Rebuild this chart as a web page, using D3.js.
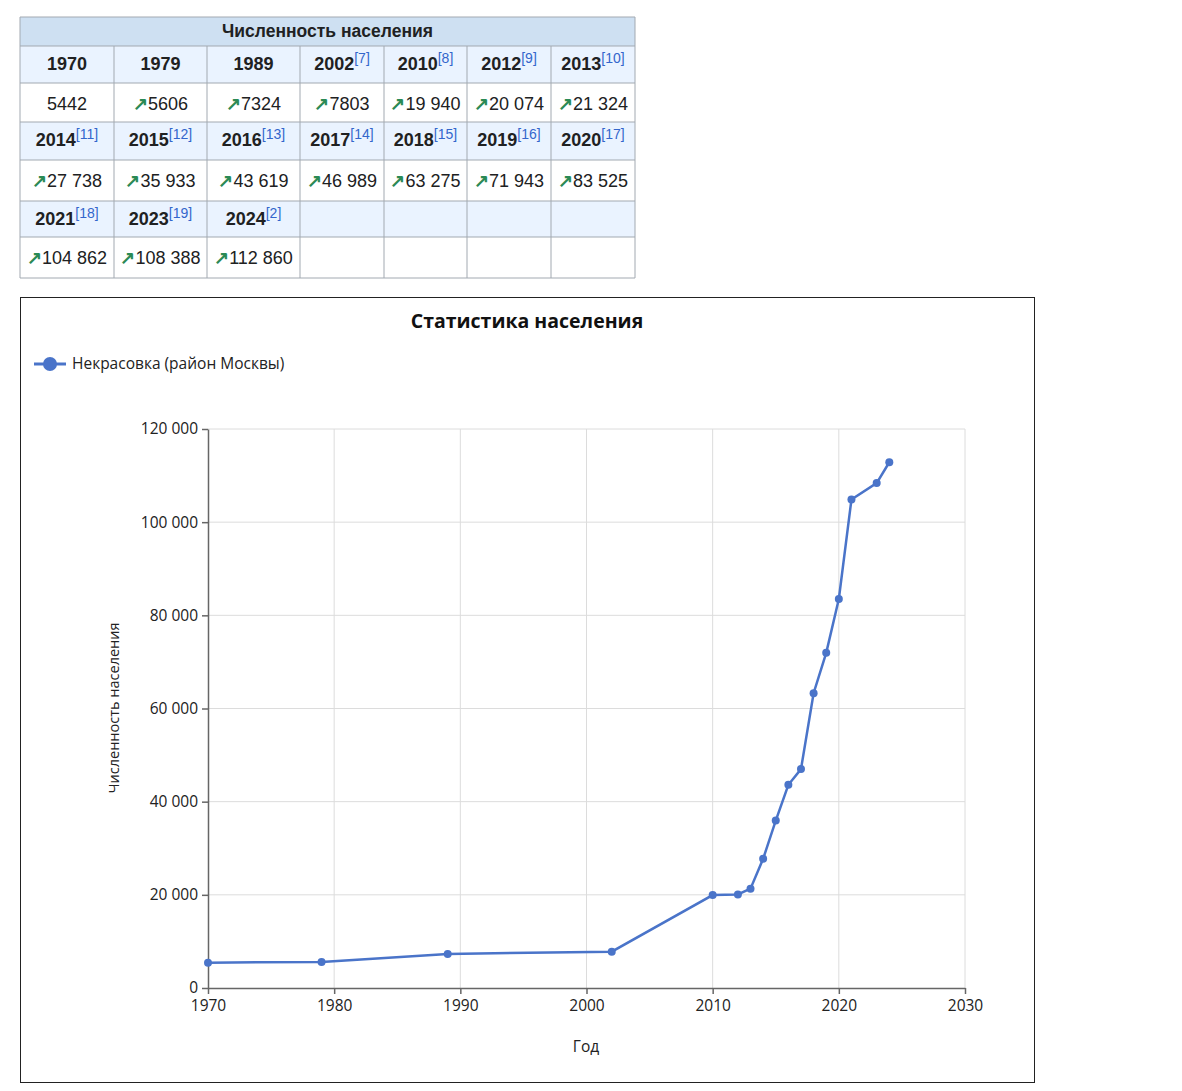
<!DOCTYPE html>
<html>
<head>
<meta charset="utf-8">
<script src="https://cdn.jsdelivr.net/npm/d3@7"></script>
<style>
  body { margin: 0; background: #fff; }
  svg text { font-family: "Liberation Sans", Arial, sans-serif; }
  .chart text { font-family: "Open Sans", "Noto Sans", sans-serif; }
</style>
</head>
<body>
<div id="vis"></div>
<script>
// Data
const years = [1970, 1979, 1989, 2002, 2010, 2012, 2013, 2014, 2015, 2016, 2017, 2018, 2019, 2020, 2021, 2023, 2024];
const population = [5442, 5606, 7324, 7803, 19940, 20074, 21324, 27738, 35933, 43619, 46989, 63275, 71943, 83525, 104862, 108388, 112860];
const refs = ['', '', '', '7', '8', '9', '10', '11', '12', '13', '14', '15', '16', '17', '18', '19', '2'];
const xTicks = [1970, 1980, 1990, 2000, 2010, 2020, 2030];
const yTicks = [0, 20000, 40000, 60000, 80000, 100000, 120000];

const tableTitle = 'Численность населения';
const chartTitle = 'Статистика населения';
const seriesName = 'Некрасовка (район Москвы)';
const xLabel = 'Год';
const yLabel = 'Численность населения';

const ru = d3.formatLocale({ decimal: ',', thousands: '\u00a0', grouping: [3], currency: ['', ''] });
const fmtSpace = ru.format(',');
const fmtCell = v => v < 10000 ? String(v) : fmtSpace(v);

const svg = d3.select('#vis').append('svg')
    .attr('width', 1182)
    .attr('height', 1091);

// ---------- Table ----------
const colX = [20, 114, 207, 300, 384, 467, 551, 635];
const rowY = [17, 46, 83, 122, 160, 201, 237, 278];
const nCols = 7;
const tbl = svg.append('g').attr('class', 'table');

// title row
tbl.append('rect')
    .attr('x', colX[0]).attr('y', rowY[0])
    .attr('width', colX[7] - colX[0]).attr('height', rowY[1] - rowY[0])
    .attr('fill', '#cee0f2');
tbl.append('text')
    .attr('x', (colX[0] + colX[7]) / 2).attr('y', rowY[0] + 20)
    .attr('text-anchor', 'middle')
    .attr('font-size', 17.5).attr('font-weight', 'bold')
    .attr('fill', '#202122')
    .text(tableTitle);

for (let block = 0; block < 3; block++) {
    const hTop = rowY[1 + block * 2], hBot = rowY[2 + block * 2], vBot = rowY[3 + block * 2];
    for (let c = 0; c < nCols; c++) {
        const i = block * nCols + c;
        const x0 = colX[c], x1 = colX[c + 1];
        tbl.append('rect')
            .attr('x', x0).attr('y', hTop)
            .attr('width', x1 - x0).attr('height', hBot - hTop)
            .attr('fill', '#eaf3ff');
        tbl.append('rect')
            .attr('x', x0).attr('y', hBot)
            .attr('width', x1 - x0).attr('height', vBot - hBot)
            .attr('fill', '#fff');
        if (i >= years.length) continue;
        const cx = (x0 + x1) / 2;
        const ht = tbl.append('text')
            .attr('x', cx).attr('y', hTop + 24)
            .attr('text-anchor', 'middle')
            .attr('font-size', 18).attr('font-weight', 'bold')
            .attr('fill', '#202122');
        ht.append('tspan').text(years[i]);
        if (refs[i]) {
            ht.append('tspan')
                .attr('dy', -7).attr('font-size', 14).attr('font-weight', 'normal')
                .attr('fill', '#3366cc')
                .text('[' + refs[i] + ']');
        }
        const vt = tbl.append('text')
            .attr('x', cx).attr('y', hBot + 27)
            .attr('text-anchor', 'middle')
            .attr('font-size', 18)
            .attr('fill', '#202122');
        if (i > 0) {
            vt.append('tspan').attr('fill', '#2a8a55').attr('font-weight', 'bold').text('\u2197');
        }
        vt.append('tspan').text(fmtCell(population[i]));
    }
}
// grid lines of the table
colX.forEach(x => {
    tbl.append('line')
        .attr('x1', x).attr('x2', x)
        .attr('y1', x === colX[0] || x === colX[7] ? rowY[0] : rowY[1]).attr('y2', rowY[7])
        .attr('stroke', '#a2a9b1');
});
rowY.forEach(y => {
    tbl.append('line')
        .attr('x1', colX[0]).attr('x2', colX[7])
        .attr('y1', y).attr('y2', y)
        .attr('stroke', '#a2a9b1');
});

// ---------- Chart ----------
const chart = svg.append('g').attr('class', 'chart');
chart.append('rect')
    .attr('x', 20.5).attr('y', 297.5)
    .attr('width', 1014).attr('height', 785)
    .attr('fill', '#fff').attr('stroke', '#222');

chart.append('text')
    .attr('x', 527).attr('y', 328)
    .attr('text-anchor', 'middle')
    .attr('font-size', 19.5).attr('font-weight', 'bold')
    .attr('fill', '#111')
    .text(chartTitle);

// legend
const color = '#4a74c9';
chart.append('line')
    .attr('x1', 34).attr('x2', 66).attr('y1', 364).attr('y2', 364)
    .attr('stroke', color).attr('stroke-width', 3);
chart.append('circle')
    .attr('cx', 50).attr('cy', 364).attr('r', 7).attr('fill', color);
chart.append('text')
    .attr('x', 72).attr('y', 369)
    .attr('font-size', 15.5).attr('fill', '#222')
    .text(seriesName);

const xScale = d3.scaleLinear().domain([1970, 2030]).range([208, 965]);
const yScale = d3.scaleLinear().domain([0, 120000]).range([988, 429]);

// gridlines
chart.append('g').selectAll('line.gx')
    .data(xTicks.slice(1))
    .join('line')
    .attr('x1', d => xScale(d)).attr('x2', d => xScale(d))
    .attr('y1', yScale(120000)).attr('y2', yScale(0))
    .attr('stroke', '#dcdcdc');
chart.append('g').selectAll('line.gy')
    .data(yTicks.slice(1))
    .join('line')
    .attr('x1', xScale(1970)).attr('x2', xScale(2030))
    .attr('y1', d => yScale(d)).attr('y2', d => yScale(d))
    .attr('stroke', '#dcdcdc');

// axes
const xAxis = chart.append('g')
    .attr('transform', `translate(0,${yScale(0)})`)
    .call(d3.axisBottom(xScale).tickValues(xTicks).tickFormat(d3.format('d')).tickSize(6).tickSizeOuter(0));
const yAxis = chart.append('g')
    .attr('transform', `translate(${xScale(1970)},0)`)
    .call(d3.axisLeft(yScale).tickValues(yTicks).tickFormat(fmtSpace).tickSize(6).tickSizeOuter(0));
[xAxis, yAxis].forEach(a => {
    a.select('.domain').attr('stroke', '#666').attr('stroke-width', 1.5);
    a.selectAll('.tick line').attr('stroke', '#666').attr('stroke-width', 1.5);
    a.selectAll('.tick text')
        .attr('font-family', '"Open Sans", "Noto Sans", sans-serif')
        .attr('font-size', 15.5).attr('fill', '#222');
});
xAxis.selectAll('.tick text').attr('y', 7).attr('dy', '1em');
yAxis.selectAll('.tick text').attr('x', -10);

// axis labels
chart.append('text')
    .attr('x', 586).attr('y', 1052)
    .attr('text-anchor', 'middle')
    .attr('font-size', 15.5).attr('fill', '#222')
    .text(xLabel);
chart.append('text')
    .attr('transform', 'translate(119,708) rotate(-90)')
    .attr('text-anchor', 'middle')
    .attr('font-size', 14.5).attr('fill', '#222')
    .text(yLabel);

// series
const pts = years.map((y, i) => ({ year: y, value: population[i] }));
chart.append('path')
    .datum(pts)
    .attr('fill', 'none')
    .attr('stroke', color)
    .attr('stroke-width', 2.5)
    .attr('d', d3.line().x(d => xScale(d.year)).y(d => yScale(d.value)));
chart.append('g').selectAll('circle')
    .data(pts)
    .join('circle')
    .attr('cx', d => xScale(d.year))
    .attr('cy', d => yScale(d.value))
    .attr('r', 4)
    .attr('fill', color);
</script>
</body>
</html>
